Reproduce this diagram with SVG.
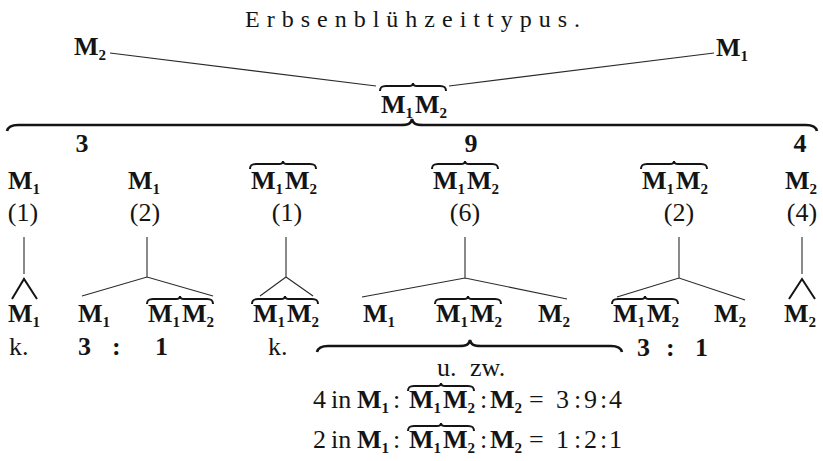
<svg xmlns="http://www.w3.org/2000/svg" width="823" height="461" viewBox="0 0 823 461" font-family="'Liberation Serif', 'DejaVu Serif', 'Times New Roman', serif">
<defs>
<style>
text{font-family:"Liberation Serif","DejaVu Serif","Times New Roman",serif;fill:#141414}
.m{font-size:26px;font-weight:bold}
.s{font-size:15px;font-weight:bold}
.r{font-size:26px}
.b{font-size:26px;font-weight:bold}
.t{font-size:24px}
.ln{stroke:#2a2a2a;stroke-width:1.1;fill:none}
.ch{stroke:#141414;stroke-width:2;fill:none}
.br{stroke:#141414;stroke-width:2.6;fill:none}
.ob{stroke:#141414;stroke-width:2;fill:none}
</style>
<path id="ob" d="M0,5 C0,1 2,0 6,0 L29,0 C32,0 33,-1 33,-3 C33,-1 34,0 37,0 L60,0 C64,0 66,1 66,5"/>
</defs>
<rect width="823" height="461" fill="#ffffff"/>

<g id="title"><text class="t" x="245" y="27" textLength="335" lengthAdjust="spacing">Erbsenblühzeittypus.</text></g>

<g id="connectors">
<line class="ln" x1="110" y1="53" x2="376" y2="86"/>
<line class="ln" x1="714" y1="53" x2="449" y2="86"/>
<path class="br" d="M7,131 C8,127 11,125 18,125 L401,125 C408,125 411,124 412,119 C413,124 416,125 423,125 L806,125 C813,125 816,127 817,131"/>
<line class="ln" x1="24" y1="237" x2="24" y2="274"/>
<path class="ch" d="M12,299 L24,279 L37,299"/>
<path class="ln" d="M147,237 L147,277 M82,296 L147,277 L213,296"/>
<path class="ln" d="M286,237 L286,277 M260,296 L286,277 L313,296"/>
<path class="ln" d="M465,237 L465,278 M362,297 L465,278 L567,299"/>
<path class="ln" d="M679,237 L679,278 M617,297 L679,278 L745,300"/>
<line class="ln" x1="802" y1="237" x2="802" y2="274"/>
<path class="ch" d="M789,299 L802,279 L815,299"/>
<path class="br" d="M317,352 C318,348 321,346 328,346 L459,346 C466,346 469,345 470,340 C471,345 474,346 481,346 L611,346 C618,346 621,348 622,352"/>
</g>

<g id="n-top-m2"><text class="m" x="74" y="55">M<tspan class="s" dy="5">2</tspan></text></g>
<g id="n-top-m1"><text class="m" x="716" y="56">M<tspan class="s" dy="5">1</tspan></text></g>
<g id="n-top-m1m2"><use href="#ob" class="ob" transform="translate(380,86)"/><text class="m" x="381" y="113">M<tspan class="s" dy="5">1</tspan><tspan dx="2" dy="-5">M</tspan><tspan class="s" dy="5">2</tspan></text></g>

<g id="counts">
<text class="b" x="82" y="152" text-anchor="middle">3</text>
<text class="b" x="471" y="152" text-anchor="middle">9</text>
<text class="b" x="800" y="152" text-anchor="middle">4</text>
</g>

<g id="c1-head"><text class="m" x="8" y="189">M<tspan class="s" dy="5">1</tspan></text><text class="r" x="23" y="221" text-anchor="middle">(1)</text></g>
<g id="c2-head"><text class="m" x="128" y="189">M<tspan class="s" dy="5">1</tspan></text><text class="r" x="145" y="221" text-anchor="middle">(2)</text></g>
<g id="c3-head"><use href="#ob" class="ob" transform="translate(250,164)"/><text class="m" x="251" y="189">M<tspan class="s" dy="5">1</tspan><tspan dx="2" dy="-5">M</tspan><tspan class="s" dy="5">2</tspan></text><text class="r" x="287" y="221" text-anchor="middle">(1)</text></g>
<g id="c4-head"><use href="#ob" class="ob" transform="translate(432,164)"/><text class="m" x="433" y="189">M<tspan class="s" dy="5">1</tspan><tspan dx="2" dy="-5">M</tspan><tspan class="s" dy="5">2</tspan></text><text class="r" x="465" y="221" text-anchor="middle">(6)</text></g>
<g id="c5-head"><use href="#ob" class="ob" transform="translate(641,164)"/><text class="m" x="642" y="189">M<tspan class="s" dy="5">1</tspan><tspan dx="2" dy="-5">M</tspan><tspan class="s" dy="5">2</tspan></text><text class="r" x="679" y="221" text-anchor="middle">(2)</text></g>
<g id="c6-head"><text class="m" x="785" y="189">M<tspan class="s" dy="5">2</tspan></text><text class="r" x="802" y="221" text-anchor="middle">(4)</text></g>

<g id="c1-child"><text class="m" x="8" y="322">M<tspan class="s" dy="5">1</tspan></text></g>
<g id="c2-child-a"><text class="m" x="78" y="322">M<tspan class="s" dy="5">1</tspan></text></g>
<g id="c2-child-b"><use href="#ob" class="ob" transform="translate(147,299)"/><text class="m" x="148" y="322">M<tspan class="s" dy="5">1</tspan><tspan dx="2" dy="-5">M</tspan><tspan class="s" dy="5">2</tspan></text></g>
<g id="c3-child"><use href="#ob" class="ob" transform="translate(252,299)"/><text class="m" x="253" y="322">M<tspan class="s" dy="5">1</tspan><tspan dx="2" dy="-5">M</tspan><tspan class="s" dy="5">2</tspan></text></g>
<g id="c4-child-a"><text class="m" x="363" y="322">M<tspan class="s" dy="5">1</tspan></text></g>
<g id="c4-child-b"><use href="#ob" class="ob" transform="translate(435,299)"/><text class="m" x="436" y="322">M<tspan class="s" dy="5">1</tspan><tspan dx="2" dy="-5">M</tspan><tspan class="s" dy="5">2</tspan></text></g>
<g id="c4-child-c"><text class="m" x="538" y="322">M<tspan class="s" dy="5">2</tspan></text></g>
<g id="c5-child-a"><use href="#ob" class="ob" transform="translate(612,299)"/><text class="m" x="613" y="322">M<tspan class="s" dy="5">1</tspan><tspan dx="2" dy="-5">M</tspan><tspan class="s" dy="5">2</tspan></text></g>
<g id="c5-child-b"><text class="m" x="714" y="322">M<tspan class="s" dy="5">2</tspan></text></g>
<g id="c6-child"><text class="m" x="784" y="322">M<tspan class="s" dy="5">2</tspan></text></g>

<g id="results">
<text class="r" x="9" y="355">k.</text>
<text class="b" y="355"><tspan x="78">3</tspan><tspan x="112">:</tspan><tspan x="155">1</tspan></text>
<text class="r" x="268" y="355">k.</text>
<text class="b" y="356"><tspan x="637">3</tspan><tspan x="666">:</tspan><tspan x="695">1</tspan></text>
<text class="r" y="376"><tspan x="437">u.</tspan><tspan x="470">zw.</tspan></text>
</g>

<g id="ratio-4">
<use href="#ob" class="ob" transform="translate(408,386)"/>
<text class="r" y="408"><tspan x="313">4</tspan><tspan x="331">in</tspan><tspan x="357" class="m">M</tspan><tspan class="s" dy="5">1</tspan><tspan x="393" dy="-5">:</tspan><tspan x="409" class="m">M</tspan><tspan class="s" dy="5">1</tspan><tspan class="m" dx="2" dy="-5">M</tspan><tspan class="s" dy="5">2</tspan><tspan x="480" dy="-5">:</tspan><tspan x="490" class="m">M</tspan><tspan class="s" dy="5">2</tspan><tspan x="529" dy="-5">=</tspan><tspan x="556">3</tspan><tspan x="574">:</tspan><tspan x="584">9</tspan><tspan x="600">:</tspan><tspan x="609">4</tspan></text>
</g>
<g id="ratio-2">
<use href="#ob" class="ob" transform="translate(408,426)"/>
<text class="r" y="448"><tspan x="313">2</tspan><tspan x="331">in</tspan><tspan x="357" class="m">M</tspan><tspan class="s" dy="5">1</tspan><tspan x="393" dy="-5">:</tspan><tspan x="409" class="m">M</tspan><tspan class="s" dy="5">1</tspan><tspan class="m" dx="2" dy="-5">M</tspan><tspan class="s" dy="5">2</tspan><tspan x="480" dy="-5">:</tspan><tspan x="490" class="m">M</tspan><tspan class="s" dy="5">2</tspan><tspan x="529" dy="-5">=</tspan><tspan x="556">1</tspan><tspan x="574">:</tspan><tspan x="584">2</tspan><tspan x="600">:</tspan><tspan x="609">1</tspan></text>
</g>
</svg>
